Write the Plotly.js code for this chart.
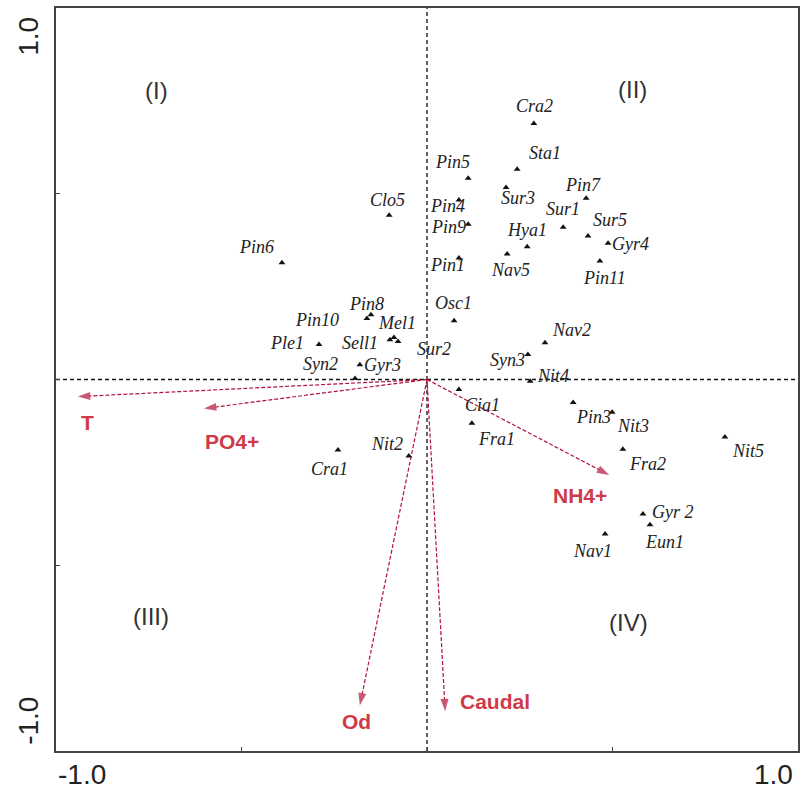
<!DOCTYPE html>
<html>
<head>
<meta charset="utf-8">
<script src="https://cdn.plot.ly/plotly-3.0.1.min.js"></script>
<style>html,body{margin:0;padding:0;background:#fff;}</style>
</head>
<body>
<div id="chart" style="width:800px;height:791px;"></div>
<script>
// Species scores (CCA axis 1, axis 2)
const species = ["Clo5","Pin6","Pin8","Pin10","Mel1","Sell1","Sur2","Ple1","Gyr3","Syn2",
  "Cra2","Sta1","Pin5","Sur3","Pin7","Pin4","Pin9","Sur1","Sur5","Hya1","Gyr4","Nav5","Pin1","Pin11",
  "Osc1","Nav2","Syn3","Nit4","Cia1","Fra1","Pin3","Nit3","Fra2","Nit5","Gyr 2","Eun1","Nav1","Cra1","Nit2"];
const speciesX = [-0.102,-0.391,-0.151,-0.162,-0.089,-0.100,-0.078,-0.291,-0.181,-0.194,
  0.288,0.243,0.111,0.213,0.429,0.086,0.111,0.367,0.434,0.270,0.488,0.216,0.086,0.466,
  0.073,0.318,0.272,0.278,0.086,0.121,0.394,0.499,0.528,0.803,0.582,0.601,0.480,-0.240,-0.049];
const speciesY = [0.442,0.314,0.174,0.164,0.113,0.107,0.102,0.094,0.040,0.003,
  0.689,0.566,0.542,0.517,0.488,0.483,0.418,0.410,0.386,0.357,0.367,0.338,0.327,0.319,
  0.158,0.099,0.067,-0.005,-0.027,-0.118,-0.062,-0.088,-0.188,-0.155,-0.362,-0.391,-0.416,-0.190,-0.206];

// Environmental variables (biplot arrows)
const envVars = ["T","PO4+","NH4+","Od","Caudal"];
const envX = [-0.941,-0.601,0.491,-0.181,0.049];
const envY = [-0.046,-0.078,-0.257,-0.877,-0.893];

// Quadrant labels
const quadLabels = ["(I)","(II)","(III)","(IV)"];
const quadX = [-0.730,0.553,-0.744,0.542];
const quadY = [0.777,0.780,-0.639,-0.655];

// label placement (pixel offsets, layout only)
const spLabelOffset = [[-2,-15],[-25,-16],[-4,-11],[-50,1],[3,-15],[-30,3],[36,7],[-32,-2],[23,0],[-35,-14],
  [1,-18],[28,-16],[-16,-16],[12,11],[-3,-13],[-11,6],[-20,3],[0,-18],[22,-16],[0,-17],[22,1],[3,16],[-11,7],[5,17],
  [-1,-18],[27,-13],[-20,5],[23,-5],[24,15],[25,16],[20,14],[21,14],[25,15],[23,14],[30,-2],[15,17],[-13,17],[-8,19],[-22,-12]];
const envLabelOffset = [[10,26],[28,33],[-29,21],[-3,16],[50,-10]];

const arrowColor = "#b3123a";
const envTextColor = "#cf3a48";

const traces = [];
envVars.forEach((v,i)=>{
  traces.push({
    type:"scatter", mode:"lines+markers",
    x:[0, envX[i]], y:[0, envY[i]],
    line:{color:arrowColor, width:1.2, dash:"4px,2px"},
    marker:{symbol:["circle","arrow"], size:[0,13], color:arrowColor, angleref:"previous", line:{width:0}},
    hoverinfo:"skip", showlegend:false, cliponaxis:false
  });
});
traces.push({
  type:"scatter", mode:"markers",
  x:speciesX, y:speciesY, text:species,
  marker:{symbol:"triangle-up", size:6, color:"#111"},
  showlegend:false, hoverinfo:"text"
});

const annotations = [];
species.forEach((s,i)=>{
  annotations.push({x:speciesX[i], y:speciesY[i], xref:"x", yref:"y", text:s, showarrow:false,
    xanchor:"center", yanchor:"middle",
    xshift:spLabelOffset[i][0], yshift:-spLabelOffset[i][1],
    font:{family:"Liberation Serif, Times New Roman, serif", size:18, color:"#222", style:"italic"}});
});
envVars.forEach((v,i)=>{
  annotations.push({x:envX[i], y:envY[i], xref:"x", yref:"y", text:v, showarrow:false,
    xanchor:"center", yanchor:"middle",
    xshift:envLabelOffset[i][0], yshift:-envLabelOffset[i][1],
    font:{family:"Liberation Sans, Arial, sans-serif", size:21, color:envTextColor, weight:"bold"}});
});
quadLabels.forEach((q,i)=>{
  annotations.push({x:quadX[i], y:quadY[i], xref:"x", yref:"y", text:q, showarrow:false,
    xanchor:"center", yanchor:"middle",
    font:{family:"Liberation Sans, Arial, sans-serif", size:24, color:"#333"}});
});
// axis end labels
const tickFont = {family:"Liberation Sans, Arial, sans-serif", size:28, color:"#222"};
const endLab = (x,y,t,ang)=>({xref:"paper", yref:"paper", x:x, y:y, text:t, textangle:ang, showarrow:false,
  xanchor:"center", yanchor:"middle", font:tickFont});
annotations.push(endLab(-0.037, 0.962, "1.0", -90));
annotations.push(endLab(-0.037, 0.040, "-1.0", -90));
annotations.push(endLab(0.035, -0.031, "-1.0", 0));
annotations.push(endLab(0.967, -0.031, "1.0", 0));

const layout = {
  width:800, height:791,
  margin:{l:56, r:2, t:8, b:40},
  paper_bgcolor:"#fff", plot_bgcolor:"#fff",
  xaxis:{range:[-1,1], showgrid:false, zeroline:false, showline:true, mirror:true, linecolor:"#444", linewidth:2,
    ticks:"inside", ticklen:4, tickcolor:"#444", tickvals:[-1,-0.5,0,0.5,1], showticklabels:false, fixedrange:true},
  yaxis:{range:[-1,1], showgrid:false, zeroline:false, showline:true, mirror:true, linecolor:"#444", linewidth:2,
    ticks:"inside", ticklen:4, tickcolor:"#444", tickvals:[-1,-0.5,0,0.5,1], showticklabels:false, fixedrange:true},
  shapes:[
    {type:"line", xref:"x", yref:"y", x0:-1, x1:1, y0:0, y1:0, line:{color:"#111", width:1.3, dash:"4px,3px"}, layer:"below"},
    {type:"line", xref:"x", yref:"y", x0:0, x1:0, y0:-1, y1:1, line:{color:"#111", width:1.3, dash:"4px,3px"}, layer:"below"}
  ],
  annotations:annotations,
  showlegend:false
};
Plotly.newPlot("chart", traces, layout, {displayModeBar:false, staticPlot:true});
</script>
</body>
</html>
